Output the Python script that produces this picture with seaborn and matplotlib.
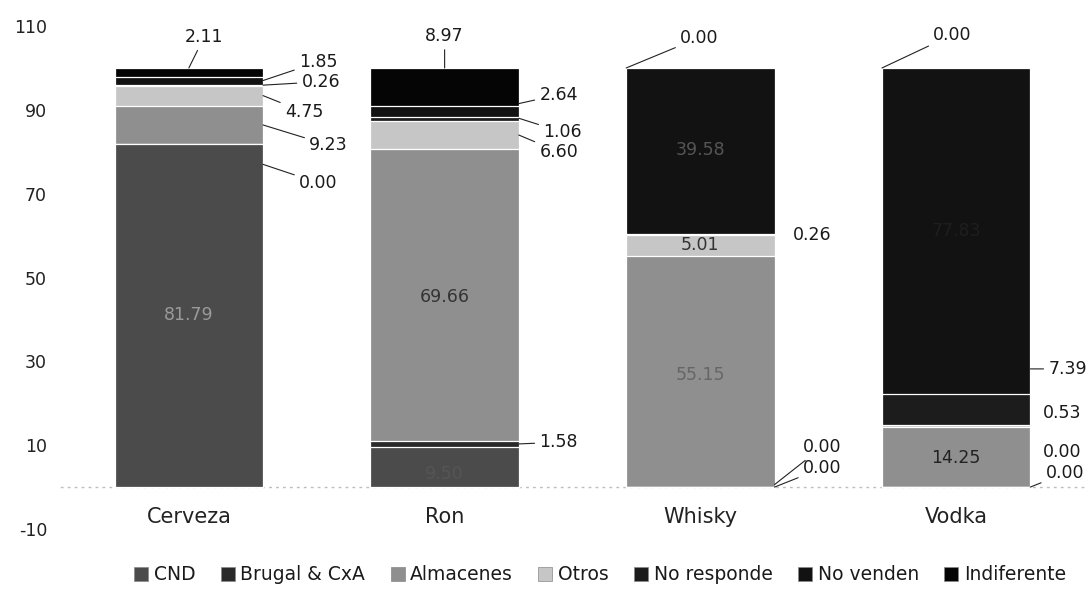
import matplotlib
matplotlib.use("Agg")
import numpy as np
import pandas as pd
import matplotlib.pyplot as plt
import seaborn as sns
from matplotlib.patches import Patch

# ---- data -------------------------------------------------------------
categories = ["Cerveza", "Ron", "Whisky", "Vodka"]
series_names = ["CND", "Brugal & CxA", "Almacenes", "Otros",
                "No responde", "No venden", "Indiferente"]
cnd = [81.79, 9.50, 0.00, 0.00]
brugal = [0.00, 1.58, 0.00, 0.00]
almacenes = [9.23, 69.66, 55.15, 14.25]
otros = [4.75, 6.60, 5.01, 0.53]
no_responde = [0.26, 1.06, 0.26, 7.39]
no_venden = [1.85, 2.64, 39.58, 77.83]
indiferente = [2.11, 8.97, 0.00, 0.00]
y_ticks = [-10, 10, 30, 50, 70, 90, 110]

series_values = [cnd, brugal, almacenes, otros, no_responde, no_venden, indiferente]
colors = ["#4b4b4b", "#2a2a2a", "#8f8f8f", "#c6c6c6", "#1c1c1c", "#121212", "#050505"]

# ---- style ------------------------------------------------------------
sns.set_style("white")
plt.rcParams["font.family"] = ["DejaVu Sans"]

fig = plt.figure(figsize=(10.91, 5.92), dpi=100)
ax = fig.add_axes([0.0559, 0.1064, 0.9377, 0.8496])

df = pd.DataFrame({name: vals for name, vals in zip(series_names, series_values)},
                  index=categories)
cum = df.cumsum(axis=1)

# stacked bars: draw cumulative totals from the top series down
for k in range(len(series_names) - 1, -1, -1):
    name = series_names[k]
    layer = pd.DataFrame({"cat": categories, "val": cum[name].values})
    sns.barplot(data=layer, x="cat", y="val", order=categories, color=colors[k],
                width=0.58, edgecolor="white", linewidth=0.9, saturation=1,
                errorbar=None, ax=ax)

ax.set_xlim(-0.5, 3.5)
ax.set_ylim(-10, 110)
ax.set_yticks(y_ticks)
ax.set_yticklabels([str(t) for t in y_ticks])
ax.set_xlabel("")
ax.set_ylabel("")

for side in ["top", "right", "left"]:
    ax.spines[side].set_visible(False)
ax.spines["bottom"].set_position(("data", 0))
ax.spines["bottom"].set_color("#bdbdbd")
ax.spines["bottom"].set_linestyle((0, (1, 4)))
ax.spines["bottom"].set_linewidth(1.0)
ax.spines["bottom"].set_zorder(0)

ax.tick_params(axis="y", length=0, pad=10, labelsize=12.5, labelcolor="#222222")
ax.tick_params(axis="x", length=0, pad=14, labelsize=15, labelcolor="#222222")

# ---- value labels -----------------------------------------------------
line_kw = dict(arrowstyle="-", color="#222222", lw=0.8, shrinkA=1, shrinkB=0)
lab_kw = dict(fontsize=12.5, color="#1a1a1a", va="center")


def val(s, c):
    return f"{series_values[s][c]:.2f}"


def callout(s, c, xy, xytext, ha="left", leader=True):
    if leader:
        ax.annotate(val(s, c), xy=xy, xytext=xytext, ha=ha,
                    arrowprops=line_kw, **lab_kw)
    else:
        ax.text(xytext[0], xytext[1], val(s, c), ha=ha, **lab_kw)


def inside(s, c, y, color):
    ax.text(c, y, val(s, c), ha="center", va="center", fontsize=12.5, color=color)


# Cerveza
callout(6, 0, (0.0, 100.0), (0.06, 107.4), ha="center")
callout(5, 0, (0.29, 97.0), (0.43, 101.4))
callout(4, 0, (0.29, 95.9), (0.44, 96.7))
callout(3, 0, (0.29, 93.4), (0.375, 89.5))
callout(2, 0, (0.29, 86.4), (0.47, 81.6))
callout(1, 0, (0.29, 77.0), (0.43, 72.6))
inside(0, 0, 41.0, "#9a9a9a")

# Ron
callout(6, 1, (1.0, 100.0), (1.0, 107.6), ha="center")
callout(5, 1, (1.29, 91.5), (1.37, 93.6))
callout(4, 1, (1.29, 88.0), (1.385, 84.7))
callout(3, 1, (1.29, 84.0), (1.37, 80.0))
callout(1, 1, (1.29, 10.3), (1.37, 10.7))
inside(2, 1, 45.3, "#333333")
inside(0, 1, 3.1, "#555555")

# Whisky
callout(6, 2, (1.71, 100.0), (1.92, 107.2))
callout(4, 2, None, (2.36, 60.1), leader=False)
callout(1, 2, (2.29, 0.6), (2.40, 9.5))
callout(0, 2, (2.29, 0.0), (2.40, 4.5))
inside(5, 2, 80.4, "#555555")
inside(3, 2, 57.8, "#333333")
inside(2, 2, 26.7, "#666666")

# Vodka
callout(6, 3, (2.71, 100.0), (2.91, 107.9))
callout(4, 3, (3.29, 28.2), (3.36, 28.2))
callout(3, 3, None, (3.34, 17.7), leader=False)
callout(1, 3, None, (3.34, 8.4), leader=False)
callout(0, 3, (3.29, 0.0), (3.35, 3.3))
inside(5, 3, 61.0, "#1e1e1e")
inside(2, 3, 6.9, "#222222")

# ---- legend -----------------------------------------------------------
handles = [Patch(facecolor=colors[k], edgecolor="#888888", linewidth=0.5,
                 label=series_names[k]) for k in range(len(series_names))]
fig.legend(handles=handles, loc="center", bbox_to_anchor=(0.55, 0.029),
           ncol=7, frameon=False, fontsize=13.5, handlelength=0.75,
           handleheight=0.75, handletextpad=0.3, columnspacing=1.35,
           labelcolor="#1a1a1a")

fig.savefig("out.png", dpi=100)
